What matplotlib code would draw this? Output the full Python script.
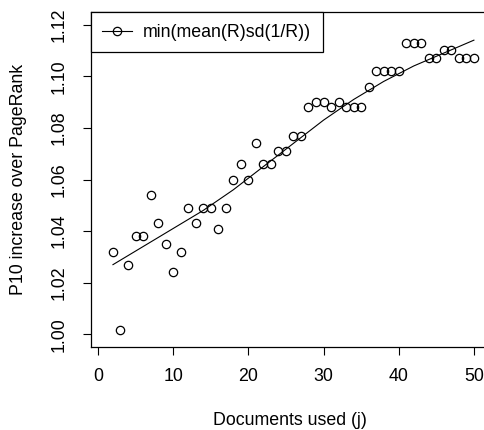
import numpy as np
import matplotlib
matplotlib.use('Agg')
from matplotlib import pyplot as plt
from matplotlib.lines import Line2D

# ****************************************    Data    **************************************** #
docs_used = np.arange(2, 51)
p10_gain = [1.032, 1.0016, 1.027, 1.038, 1.038, 1.054, 1.043, 1.035, 1.024, 1.032,
            1.049, 1.043, 1.049, 1.049, 1.041, 1.049, 1.060, 1.066, 1.060, 1.074,
            1.066, 1.066, 1.071, 1.071, 1.077, 1.077, 1.088, 1.090, 1.090, 1.088,
            1.090, 1.088, 1.088, 1.088, 1.096, 1.102, 1.102, 1.102, 1.102, 1.113,
            1.113, 1.113, 1.107, 1.107, 1.110, 1.110, 1.107, 1.107, 1.107]

# smoothed trend
trend_x = [2, 6, 10, 14, 18, 22, 26, 30, 34, 38, 42, 46, 50]
trend_y = [1.027, 1.034, 1.041, 1.048, 1.056, 1.065, 1.074, 1.083, 1.091, 1.098, 1.104, 1.109, 1.114]

legend_label = 'min(mean(R)sd(1/R))'
x_ticks = [0, 10, 20, 30, 40, 50]
y_ticks = [1.00, 1.02, 1.04, 1.06, 1.08, 1.10, 1.12]

# ****************************************           Plotting            **************************************** #
fs = 12.8
plt.rcParams['font.family'] = ['Liberation Sans', 'DejaVu Sans']
plt.rcParams['font.size'] = fs

fig = plt.figure(figsize=(4.85, 4.3), dpi=100)
ax = fig.add_axes([0.187, 0.1937, 0.8205, 0.7777])

ax.plot(docs_used, p10_gain, linestyle='none', marker='o', markersize=6,
        markerfacecolor='none', markeredgecolor='black', markeredgewidth=0.9)
ax.plot(trend_x, trend_y, color='black', linewidth=0.8)

ax.set_xlim(-0.96, 51.96)
ax.set_ylim(0.9952, 1.1248)
ax.set_xticks(x_ticks)
ax.set_yticks(y_ticks)
ax.set_xticklabels([str(t) for t in x_ticks])
ax.set_yticklabels(['%.2f' % t for t in y_ticks], rotation=90, va='center')
ax.tick_params(direction='out', length=5.5, width=0.8, colors='black', labelsize=fs)
ax.tick_params(axis='x', pad=10)
ax.tick_params(axis='y', pad=11)
for sp in ax.spines.values():
    sp.set_linewidth(0.9)

ax.set_xlabel('Documents used (j)', fontsize=fs)
ax.xaxis.set_label_coords(0.5, -0.22)
ax.xaxis.label.set_va('center')
ax.set_ylabel('P10 increase over PageRank', fontsize=fs)
ax.yaxis.set_label_coords(-0.182, 0.5)
ax.yaxis.label.set_va('center')

handle = Line2D([], [], color='black', linewidth=0.8, marker='o', markersize=6,
                markerfacecolor='none', markeredgecolor='black', markeredgewidth=0.9)
leg = ax.legend([handle], [legend_label], loc='upper left', borderaxespad=0,
                fancybox=False, framealpha=1, edgecolor='black', fontsize=fs,
                handlelength=1.7, handletextpad=0.6, borderpad=0.65)
leg.get_frame().set_linewidth(0.9)

fig.savefig('out.png', dpi=100)
